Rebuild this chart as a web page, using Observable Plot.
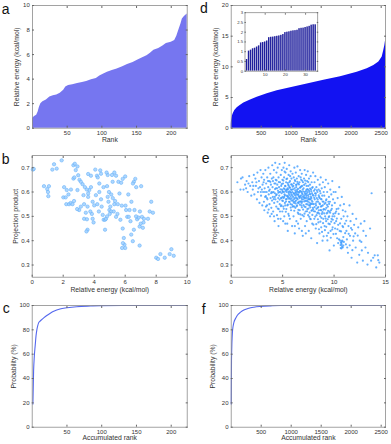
<!DOCTYPE html>
<html><head><meta charset="utf-8">
<script src="https://cdn.jsdelivr.net/npm/d3@7"></script>
<script src="https://cdn.jsdelivr.net/npm/@observablehq/plot@0.6"></script>
<style>
html,body{margin:0;padding:0;background:#fff;}
#fig{position:relative;width:391px;height:444px;overflow:hidden;background:#fff;font-family:"Liberation Sans",Arial,Helvetica,sans-serif;}
.lt{position:absolute;font-size:14px;line-height:14px;color:#111;}
</style></head><body><div id="fig"></div>
<script>
// ---------- data ----------
// panel a: relative energy vs rank (sorted), sampled along the profile
const aRank   = [0,1,3,6,8,10,12,15,20,25,30,35,40,45,48,52,58,65,72,78,85,92,97,102,108,115,122,130,137,145,152,158,165,170,175,182,188,193,200,205,208,211,214,216,219,223];
const aEnergy = [0.8,0.85,0.95,1.05,1.3,1.7,2.0,2.15,2.3,2.55,2.65,2.7,2.85,3.1,3.35,3.48,3.55,3.65,3.72,3.8,3.95,4.05,4.25,4.4,4.55,4.7,4.82,5.0,5.2,5.35,5.55,5.72,5.9,6.1,6.35,6.5,6.7,6.9,7.0,7.15,7.5,8.0,8.5,8.9,9.1,9.3];
// panel d: relative energy vs rank (sorted), sampled along the profile
const dRank   = [0,1,5,10,20,35,60,100,150,211,322,433,600,767,989,1267,1544,1822,2100,2267,2378,2461,2517,2544,2561,2572];
const dEnergy = [0,0.6,1.2,1.5,2.0,2.4,2.9,3.35,3.7,4.1,4.6,5.05,5.6,6.1,6.6,7.2,7.8,8.4,9.1,9.7,10.2,10.8,11.6,12.7,13.5,14.2];
// inset of d: the 35 lowest energies
const insetRank   = [1,2,3,4,5,6,7,8,9,10,11,12,13,14,15,16,17,18,19,20,21,22,23,24,25,26,27,28,29,30,31,32,33,34,35];
const insetEnergy = [0.6,1.03,1.08,1.15,1.18,1.24,1.3,1.45,1.47,1.5,1.55,1.72,1.74,1.75,1.77,1.79,1.81,1.84,1.88,1.98,2.0,2.02,2.05,2.07,2.08,2.1,2.18,2.2,2.21,2.24,2.27,2.3,2.36,2.38,2.38];
// panel b: [relative energy, projection product]
const bPoints = [[0.04,0.692],[0.1,0.695],[0.76,0.624],[0.97,0.612],[1.04,0.583],[1.08,0.624],[1.02,0.6],[1.3,0.692],[1.41,0.714],[1.58,0.696],[1.9,0.73],[2.06,0.62],[2.01,0.578],[2.16,0.578],[2.23,0.608],[2.34,0.59],[2.2,0.55],[2.38,0.55],[2.48,0.555],[2.6,0.55],[2.7,0.563],[2.66,0.71],[2.75,0.716],[2.92,0.705],[2.81,0.69],[2.66,0.655],[2.72,0.66],[2.97,0.669],[3.05,0.65],[2.92,0.608],[3.14,0.642],[3.25,0.632],[3.31,0.587],[3.03,0.526],[3.14,0.54],[3.35,0.55],[3.35,0.49],[3.53,0.488],[3.46,0.515],[3.57,0.54],[3.61,0.58],[3.61,0.594],[3.68,0.608],[3.52,0.61],[3.79,0.62],[3.61,0.674],[3.79,0.667],[3.9,0.49],[3.85,0.51],[3.96,0.475],[4.0,0.545],[4.11,0.587],[3.75,0.52],[3.57,0.445],[3.5,0.438],[4.07,0.692],[4.18,0.667],[4.23,0.66],[4.33,0.635],[4.39,0.689],[4.44,0.675],[4.33,0.6],[4.44,0.57],[4.48,0.54],[4.55,0.506],[4.61,0.486],[4.7,0.486],[4.76,0.49],[4.83,0.5],[4.7,0.445],[4.87,0.67],[4.83,0.624],[4.87,0.58],[4.92,0.56],[4.98,0.526],[5.04,0.54],[5.09,0.52],[5.15,0.67],[5.19,0.642],[5.26,0.52],[5.3,0.55],[5.35,0.563],[5.41,0.667],[5.41,0.498],[5.52,0.55],[5.56,0.642],[5.63,0.594],[5.69,0.486],[5.74,0.638],[5.84,0.654],[5.78,0.544],[5.84,0.45],[5.91,0.411],[5.95,0.384],[6.0,0.37],[6.02,0.544],[6.06,0.526],[6.13,0.498],[6.0,0.664],[6.23,0.498],[6.28,0.526],[6.34,0.48],[6.39,0.425],[6.49,0.398],[6.56,0.445],[6.6,0.526],[6.56,0.642],[6.65,0.654],[6.5,0.635],[6.71,0.62],[6.77,0.488],[6.86,0.495],[6.93,0.458],[6.95,0.52],[7.03,0.624],[7.08,0.498],[7.14,0.453],[7.21,0.49],[7.18,0.475],[6.93,0.38],[7.47,0.49],[7.58,0.52],[7.68,0.56],[7.79,0.515],[8.0,0.33],[8.12,0.325],[8.27,0.345],[8.55,0.33],[8.87,0.345],[8.98,0.365],[9.13,0.338],[4.95,0.6],[5.1,0.59],[5.2,0.575],[4.6,0.62],[4.2,0.55],[3.9,0.56],[5.5,0.51],[5.0,0.51],[6.4,0.56],[6.2,0.59],[6.7,0.5],[7.0,0.47],[5.8,0.37],[5.85,0.39],[2.5,0.61],[2.9,0.53],[4.8,0.68],[5.3,0.68],[3.4,0.62],[4.3,0.52]];
// panel e: [relative energy, projection product]
const ePoints = [[0.6,0.64],[0.9,0.61],[0.95,0.655],
[1.1,0.66],[1.2,0.61],[1.35,0.63],[1.5,0.645],[1.6,0.6],[1.75,0.665],[1.85,0.625],[1.95,0.585],
[2.05,0.64],[2.1,0.61],[2.2,0.67],[2.25,0.59],[2.35,0.655],[2.4,0.625],[2.5,0.57],[2.55,0.68],[2.6,0.6],[2.7,0.645],[2.75,0.555],[2.8,0.62],[2.85,0.69],[2.9,0.585],[2.95,0.66],[2.98,0.61],
[3.02,0.545],[3.05,0.63],[3.1,0.6],[3.12,0.675],[3.18,0.56],[3.2,0.65],[3.25,0.615],[3.3,0.58],[3.32,0.69],[3.38,0.54],[3.4,0.635],[3.45,0.6],[3.5,0.66],[3.52,0.57],[3.55,0.515],[3.6,0.62],[3.62,0.7],[3.65,0.59],[3.7,0.645],[3.72,0.55],[3.75,0.61],[3.78,0.5],[3.8,0.675],[3.83,0.575],[3.86,0.63],[3.9,0.535],[3.92,0.6],[3.95,0.655],[3.97,0.565],[3.99,0.71],
[4.02,0.62],[4.05,0.58],[4.08,0.52],[4.1,0.66],[4.12,0.6],[4.15,0.69],[4.18,0.555],[4.2,0.635],[4.22,0.48],[4.25,0.595],[4.28,0.72],[4.3,0.57],[4.33,0.65],[4.35,0.615],[4.38,0.54],[4.4,0.68],[4.42,0.59],[4.45,0.505],[4.48,0.63],[4.5,0.56],[4.52,0.7],[4.55,0.605],[4.57,0.575],[4.6,0.66],[4.62,0.53],[4.65,0.62],[4.67,0.585],[4.7,0.715],[4.72,0.55],[4.75,0.64],[4.77,0.6],[4.8,0.49],[4.82,0.67],[4.84,0.575],[4.86,0.625],[4.88,0.545],[4.9,0.595],[4.92,0.69],[4.94,0.61],[4.96,0.565],[4.97,0.52],[4.98,0.65],[4.99,0.58],[4.6,0.46],[4.3,0.635],
[5.02,0.6],[5.04,0.635],[5.06,0.54],[5.08,0.7],[5.1,0.575],[5.12,0.615],[5.14,0.66],[5.16,0.5],[5.18,0.59],[5.2,0.72],[5.22,0.555],[5.24,0.625],[5.26,0.47],[5.28,0.68],[5.3,0.605],[5.32,0.57],[5.34,0.64],[5.36,0.53],[5.38,0.6],[5.4,0.695],[5.42,0.585],[5.44,0.655],[5.46,0.545],[5.48,0.615],[5.5,0.44],[5.52,0.58],[5.54,0.63],[5.56,0.51],[5.58,0.67],[5.6,0.595],[5.62,0.56],[5.64,0.71],[5.66,0.62],[5.68,0.575],[5.7,0.49],[5.72,0.645],[5.74,0.6],[5.76,0.55],[5.78,0.685],[5.8,0.61],[5.82,0.525],[5.84,0.59],[5.86,0.655],[5.88,0.565],[5.9,0.63],[5.92,0.46],[5.94,0.6],[5.96,0.675],[5.98,0.54],[5.15,0.58],[5.35,0.61],[5.55,0.6],[5.75,0.57],[5.25,0.545],[5.65,0.64],
[6.02,0.58],[6.04,0.625],[6.06,0.5],[6.08,0.66],[6.1,0.595],[6.12,0.555],[6.14,0.7],[6.16,0.615],[6.18,0.43],[6.2,0.575],[6.22,0.645],[6.24,0.535],[6.26,0.6],[6.28,0.68],[6.3,0.565],[6.32,0.62],[6.34,0.48],[6.36,0.59],[6.38,0.655],[6.4,0.545],[6.42,0.61],[6.44,0.705],[6.46,0.57],[6.48,0.515],[6.5,0.635],[6.52,0.59],[6.54,0.555],[6.56,0.665],[6.58,0.6],[6.6,0.45],[6.62,0.58],[6.64,0.64],[6.66,0.525],[6.68,0.605],[6.7,0.69],[6.72,0.56],[6.74,0.62],[6.76,0.49],[6.78,0.585],[6.8,0.65],[6.82,0.545],[6.84,0.6],[6.86,0.675],[6.88,0.57],[6.9,0.625],[6.92,0.505],[6.94,0.59],[6.96,0.42],[6.98,0.64],[6.05,0.56],[6.25,0.585],[6.45,0.6],[6.65,0.575],[6.85,0.555],[6.15,0.54],[6.35,0.63],[6.55,0.51],[6.75,0.66],[6.95,0.61],[6.5,0.47],
[7.02,0.57],[7.04,0.615],[7.06,0.5],[7.08,0.655],[7.1,0.585],[7.12,0.54],[7.14,0.69],[7.16,0.6],[7.18,0.46],[7.2,0.565],[7.22,0.635],[7.24,0.52],[7.26,0.59],[7.28,0.67],[7.3,0.55],[7.32,0.61],[7.34,0.48],[7.36,0.575],[7.38,0.645],[7.4,0.53],[7.42,0.6],[7.44,0.685],[7.46,0.56],[7.48,0.505],[7.5,0.625],[7.52,0.58],[7.54,0.44],[7.56,0.655],[7.58,0.545],[7.6,0.6],[7.62,0.515],[7.64,0.57],[7.66,0.63],[7.68,0.49],[7.7,0.59],[7.72,0.665],[7.74,0.55],[7.76,0.61],[7.78,0.41],[7.8,0.575],[7.82,0.64],[7.84,0.525],[7.86,0.595],[7.88,0.47],[7.9,0.56],[7.92,0.62],[7.94,0.535],[7.96,0.68],[7.98,0.585],[7.15,0.575],[7.35,0.595],[7.55,0.57],[7.75,0.58],[7.45,0.61],[7.65,0.545],
[8.02,0.55],[8.05,0.605],[8.08,0.49],[8.1,0.64],[8.12,0.57],[8.15,0.52],[8.18,0.665],[8.2,0.585],[8.22,0.45],[8.25,0.545],[8.28,0.62],[8.3,0.505],[8.32,0.575],[8.35,0.39],[8.38,0.6],[8.4,0.535],[8.42,0.65],[8.45,0.56],[8.48,0.475],[8.5,0.61],[8.52,0.525],[8.55,0.58],[8.58,0.43],[8.6,0.63],[8.62,0.55],[8.65,0.5],[8.68,0.595],[8.7,0.66],[8.72,0.54],[8.75,0.455],[8.78,0.57],[8.8,0.615],[8.82,0.51],[8.85,0.585],[8.88,0.4],[8.9,0.545],[8.92,0.64],[8.95,0.49],[8.97,0.56],[8.99,0.6],[8.3,0.56],[8.6,0.575],[8.15,0.595],[8.45,0.515],[8.75,0.525],
[9.02,0.53],[9.05,0.585],[9.08,0.46],[9.1,0.62],[9.13,0.5],[9.16,0.555],[9.2,0.65],[9.23,0.48],[9.26,0.57],[9.3,0.42],[9.33,0.6],[9.36,0.515],[9.4,0.54],[9.43,0.635],[9.46,0.47],[9.5,0.58],[9.53,0.5],[9.56,0.36],[9.6,0.56],[9.63,0.61],[9.66,0.44],[9.7,0.525],[9.73,0.59],[9.76,0.49],[9.8,0.545],[9.83,0.645],[9.86,0.455],[9.9,0.57],[9.93,0.51],[9.96,0.6],[9.98,0.38],[9.25,0.535],[9.55,0.52],[9.85,0.5],[9.45,0.56],
[10.03,0.5],[10.07,0.555],[10.1,0.45],[10.15,0.6],[10.2,0.48],[10.25,0.53],[10.3,0.41],[10.35,0.575],[10.4,0.465],[10.45,0.51],[10.5,0.62],[10.55,0.44],[10.6,0.545],[10.65,0.37],[10.7,0.49],[10.72,0.39],[10.75,0.58],[10.8,0.4],[10.82,0.46],[10.85,0.525],[10.9,0.38],[10.93,0.5],[10.96,0.55],[10.6,0.4],[10.78,0.375],[10.4,0.39],[10.2,0.52],[10.9,0.415],
[11.05,0.47],[11.1,0.52],[11.15,0.385],[11.2,0.44],[11.3,0.5],[11.35,0.35],[11.4,0.46],[11.5,0.545],[11.55,0.42],[11.6,0.48],[11.7,0.33],[11.75,0.445],[11.8,0.51],[11.85,0.4],[11.95,0.465],[11.25,0.405],
[12.05,0.43],[12.15,0.49],[12.25,0.31],[12.35,0.455],[12.5,0.4],[12.6,0.47],[12.7,0.36],[12.85,0.44],[12.95,0.48],
[13.1,0.42],[13.3,0.35],[13.5,0.45],[13.65,0.595],[13.8,0.33],[13.95,0.34],
[14.1,0.29],[14.25,0.34],[14.4,0.31],
[3.37,0.583],[3.64,0.528],[3.81,0.642],[4.03,0.598],[4.14,0.571],[4.26,0.612],[4.37,0.587],[4.41,0.648],[4.53,0.532],[4.59,0.597],[4.63,0.641],[4.71,0.569],[4.79,0.611],[4.83,0.542],[4.91,0.632],[4.99,0.604],[5.03,0.563],[5.07,0.647],[5.11,0.531],[5.17,0.612],[5.19,0.684],[5.23,0.586],[5.27,0.624],[5.31,0.519],[5.33,0.561],[5.37,0.653],[5.39,0.571],[5.43,0.609],[5.47,0.582],[5.49,0.637],[5.51,0.548],[5.53,0.611],[5.57,0.573],[5.59,0.626],[5.61,0.502],[5.63,0.588],[5.67,0.603],[5.69,0.559],[5.71,0.617],[5.73,0.665],[5.77,0.582],[5.79,0.536],[5.81,0.597],[5.83,0.631],[5.87,0.574],[5.89,0.609],[5.91,0.548],[5.93,0.586],[5.97,0.622],[5.99,0.566],
[6.01,0.611],[6.03,0.541],[6.07,0.594],[6.09,0.636],[6.11,0.571],[6.13,0.523],[6.17,0.589],[6.19,0.649],[6.21,0.561],[6.23,0.607],[6.27,0.553],[6.29,0.596],[6.31,0.629],[6.33,0.577],[6.37,0.541],[6.39,0.604],[6.41,0.573],[6.43,0.642],[6.47,0.589],[6.49,0.556],[6.51,0.613],[6.53,0.527],[6.57,0.583],[6.59,0.631],[6.61,0.561],[6.63,0.598],[6.67,0.548],[6.69,0.617],[6.71,0.581],[6.73,0.508],[6.77,0.603],[6.79,0.562],[6.81,0.623],[6.83,0.576],[6.87,0.537],[6.89,0.594],[6.91,0.646],[6.93,0.561],[6.97,0.581],[6.99,0.528],
[7.01,0.602],[7.03,0.546],[7.07,0.578],[7.09,0.629],[7.11,0.561],[7.13,0.511],[7.17,0.593],[7.19,0.647],[7.21,0.576],[7.23,0.538],[7.27,0.604],[7.29,0.562],[7.31,0.584],[7.33,0.625],[7.37,0.521],[7.39,0.566],[7.41,0.611],[7.43,0.549],[7.47,0.587],[7.49,0.641],[7.51,0.532],[7.53,0.571],[7.57,0.606],[7.59,0.498],[7.61,0.556],[7.63,0.592],[7.67,0.614],[7.69,0.537],[7.71,0.571],[7.73,0.488],[7.77,0.552],[7.79,0.603],[7.81,0.523],[7.83,0.565],[7.87,0.617],[7.89,0.506],[7.91,0.551],[7.93,0.588],[7.97,0.529],[7.99,0.466],
[8.03,0.521],[8.07,0.576],[8.11,0.538],[8.13,0.611],[8.17,0.499],[8.21,0.552],[8.23,0.593],[8.27,0.468],[8.29,0.531],[8.33,0.607],[8.37,0.514],[8.41,0.569],[8.43,0.488],[8.47,0.538],[8.51,0.586],[8.53,0.447],[8.57,0.511],[8.59,0.553],[8.63,0.604],[8.67,0.478],[8.69,0.526],[8.73,0.571],[8.77,0.494],[8.79,0.542],[8.83,0.436],[8.87,0.517],[8.89,0.561],[8.93,0.472],[8.96,0.528],[8.98,0.418],
[9.04,0.512],[9.07,0.551],[9.11,0.443],[9.15,0.528],[9.18,0.491],[9.22,0.566],[9.24,0.457],[9.28,0.512],[9.32,0.547],[9.35,0.401],[9.38,0.488],[9.42,0.523],[9.44,0.432],[9.48,0.497],[9.52,0.551],[9.58,0.468],[9.62,0.515],[9.68,0.412],[9.72,0.478],[9.78,0.531],[9.82,0.446],[9.88,0.486],[9.94,0.427],
[10.05,0.472],[10.12,0.513],[10.18,0.428],[10.27,0.491],[10.33,0.447],[10.42,0.532],[10.48,0.405],[10.58,0.471],[10.63,0.382],[10.68,0.438],[10.74,0.383],[10.76,0.397],[10.84,0.372],[10.88,0.456],[10.95,0.395],[10.67,0.392],[10.71,0.368],
[11.08,0.431],[11.18,0.482],[11.28,0.372],[11.42,0.428],[11.52,0.381],[11.65,0.452],[11.78,0.361],[11.9,0.418],
[12.1,0.372],[12.3,0.421],[12.45,0.342],[12.65,0.395],[12.8,0.318],[13.05,0.372],[13.25,0.302],[13.6,0.318],[14.3,0.32],
[1.45,0.615],[1.68,0.635],[2.15,0.625],[2.45,0.64],[2.65,0.615],[2.88,0.6],[3.15,0.64],[3.28,0.6],[3.47,0.575],[3.58,0.645],[3.68,0.605],[3.88,0.595],[4.06,0.645],[4.24,0.58],[4.46,0.615],[4.68,0.6],[4.89,0.575],[5.13,0.6],[3.22,0.525],[3.48,0.545],[3.93,0.51],[4.16,0.5],[4.56,0.49],[4.74,0.52],[5.05,0.48],[5.45,0.47],[6.19,0.46],[6.87,0.44],[7.25,0.43]];
// panel c: cumulative probability (%) vs accumulated rank
const cRank = [1,2,3,4.3,5.5,6.7,8,9.1,11,14,17,21,26,31,40,50,64,84,98,130,223];
const cProb = [19,46,58,67,75,80,83.5,85.5,87,88.5,90,91.8,93.7,95.3,97.2,98.1,99,99.6,99.9,100,100];
// panel f: cumulative probability (%) vs accumulated rank
const fRank = [1,3,5,8,11,16,22,30,44,72,100,156,211,294,378,489,656,822,2572];
const fProb = [19,40,55,62,68,74,79,82.5,86,89.3,91.8,94.5,96.3,97.8,98.6,99.2,99.7,100,100];
// tick values
const aXTicks = [50,100,150,200], aYTicks = [0,2,4,6,8,10];
const dXTicks = [500,1000,1500,2000,2500], dYTicks = [0,5,10,15,20];
const bXTicks = [0,2,4,6,8,10], eXTicks = [0,5,10,15], peYTicks = [0.3,0.4,0.5,0.6,0.7];
const probYTicks = [0,20,40,60,80,100];
const insetXTicks = [10,20,30], insetYTicks = [0,0.5,1,1.5,2,2.5,3];

// ---------- drawing ----------
const fig = document.getElementById("fig");
const FONT = '"Liberation Sans", Arial, Helvetica, sans-serif';
const fmt = d => String(d);

function panel(o) {
  const ts = o.tickSize ?? -2;
  const fs = o.fontSize ?? 6;
  const marks = [
    ...(o.pre || []),
    ...o.marks,
    Plot.frame({stroke: "#8c8c8c", strokeWidth: 0.8}),
    Plot.axisX(o.xTicks, {anchor: "bottom", tickSize: ts, tickPadding: o.xPad ?? 4.4, tickFormat: fmt, fontSize: fs, label: null, stroke: "#666"}),
    Plot.axisX(o.xTicks, {anchor: "top", tickSize: ts, tickFormat: () => "", label: null, stroke: "#666"}),
    Plot.axisY(o.yTicks, {anchor: "left", tickSize: ts, tickPadding: o.yPad ?? 4.7, tickFormat: fmt, fontSize: fs, label: null, stroke: "#666"}),
    Plot.axisY(o.yTicks, {anchor: "right", tickSize: ts, tickFormat: () => "", label: null, stroke: "#666"})
  ];
  if (o.xLabel) marks.push(Plot.axisX([], {anchor: "bottom", tickSize: 0, label: o.xLabel, labelAnchor: "center", labelArrow: "none", labelOffset: o.xLabelOffset, fontSize: 6.8}));
  if (o.yLabel) marks.push(Plot.axisY([], {anchor: "left", tickSize: 0, label: o.yLabel, labelAnchor: "center", labelArrow: "none", labelOffset: o.yLabelOffset, fontSize: 6.8}));
  const chart = Plot.plot({
    width: o.width, height: o.height,
    marginTop: o.mt, marginBottom: o.mb, marginLeft: o.ml, marginRight: o.mr,
    x: {domain: o.xDomain}, y: {domain: o.yDomain},
    style: {fontFamily: FONT, background: "transparent", color: "#333", overflow: "visible"},
    marks
  });
  chart.style.position = "absolute";
  chart.style.left = o.left + "px";
  chart.style.top = o.top + "px";
  fig.appendChild(chart);
}

// a
panel({left: 0, top: 0, width: 195, height: 148, mt: 5, mb: 20.3, ml: 32, mr: 8.3,
  xDomain: [0, 223], yDomain: [0, 10], xTicks: aXTicks, yTicks: aYTicks,
  xLabel: "Rank", xLabelOffset: 14, yLabel: "Relative energy (kcal/mol)", yLabelOffset: 18,
  marks: [Plot.areaY(aEnergy, {x: aRank, y: aEnergy, fill: "#7676f0", curve: "linear"})]});
// d
panel({left: 195, top: 0, width: 196, height: 148, mt: 5, mb: 20.3, ml: 35.7, mr: 6,
  xDomain: [0, 2572], yDomain: [0, 20], xTicks: dXTicks, yTicks: dYTicks,
  xLabel: "Rank", xLabelOffset: 14, yLabel: "Relative energy (kcal/mol)", yLabelOffset: 18,
  marks: [Plot.areaY(dEnergy, {x: dRank, y: dEnergy, fill: "#1212f2", curve: "linear"})]});
// inset of d
panel({left: 230, top: 5, width: 92, height: 76, mt: 7.2, mb: 10.3, ml: 14.5, mr: 4.8,
  xDomain: [0, 36], yDomain: [0, 3], xTicks: insetXTicks, yTicks: insetYTicks,
  tickSize: -1.4, fontSize: 4.2, xPad: 3.6, yPad: 3.4,
  pre: [Plot.frame({fill: "white"})],
  marks: [Plot.rectY(insetEnergy, {x1: insetRank.map(r => r - 0.36), x2: insetRank.map(r => r + 0.36), y: insetEnergy, fill: "#1f1f9c"})]});
// b
panel({left: 0, top: 148, width: 195, height: 148, mt: 7, mb: 19.3, ml: 31.7, mr: 8.3,
  xDomain: [0, 10], yDomain: [0.25, 0.75], xTicks: bXTicks, yTicks: peYTicks,
  xLabel: "Relative energy (kcal/mol)", xLabelOffset: 14.8, yLabel: "Projection product", yLabelOffset: 18.7,
  marks: [Plot.dot(bPoints, {x: d => d[0], y: d => d[1], r: 1.7, fill: "#9fd0ff", fillOpacity: 0.85, stroke: "#5caaf7", strokeWidth: 0.5})]});
// e
panel({left: 195, top: 148, width: 196, height: 148, mt: 7, mb: 19.3, ml: 35.7, mr: 6,
  xDomain: [0, 15], yDomain: [0.25, 0.75], xTicks: eXTicks, yTicks: peYTicks,
  xLabel: "Relative energy (kcal/mol)", xLabelOffset: 14.8, yLabel: "Projection product", yLabelOffset: 19,
  marks: [Plot.dot(ePoints, {x: d => d[0], y: d => d[1], r: 1.1, fill: "#3f9cff", fillOpacity: 0.8})]});
// c
panel({left: 0, top: 296, width: 195, height: 148, mt: 9, mb: 17.3, ml: 31.7, mr: 8.3,
  xDomain: [0, 223], yDomain: [0, 100], xTicks: aXTicks, yTicks: probYTicks,
  xLabel: "Accumulated rank", xLabelOffset: 12.7, yLabel: "Probability (%)", yLabelOffset: 21,
  marks: [Plot.line(cProb, {x: cRank, y: cProb, stroke: "#5468ee", strokeWidth: 1.1, curve: "monotone-x"})]});
// f
panel({left: 195, top: 296, width: 196, height: 148, mt: 9, mb: 17.3, ml: 35.7, mr: 6,
  xDomain: [0, 2572], yDomain: [0, 100], xTicks: dXTicks, yTicks: probYTicks,
  xLabel: "Accumulated rank", xLabelOffset: 12.7, yLabel: "Probability (%)", yLabelOffset: 20.7,
  marks: [Plot.line(fProb, {x: fRank, y: fProb, stroke: "#5468ee", strokeWidth: 1.1, curve: "monotone-x"})]});

// panel letters
const letters = [["a", 1.7, 1.5], ["b", 1.7, 151.5], ["c", 2.7, 300.5], ["d", 200, 0.9], ["e", 201.7, 150.5], ["f", 201.7, 301.5]];
for (const [t, x, y] of letters) {
  const el = document.createElement("div");
  el.className = "lt"; el.textContent = t;
  el.style.left = x + "px"; el.style.top = y + "px";
  fig.appendChild(el);
}
</script>
</body></html>
